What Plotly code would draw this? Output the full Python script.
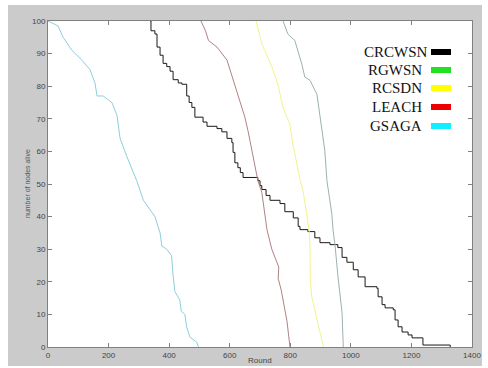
import plotly.graph_objects as go

# ---- data ----
series_names = ["CRCWSN", "RGWSN", "RCSDN", "LEACH", "GSAGA"]

crcwsn_x = [337, 340, 353, 360, 370, 380, 392, 403, 413, 430, 442, 458, 466, 475, 485, 512, 525, 558, 574, 591,
            607, 611, 617, 627, 635, 644, 693, 700, 706, 720, 733, 766, 782, 810, 826, 832, 858, 881, 898, 931,
            957, 971, 987, 1008, 1024, 1047, 1086, 1090, 1103, 1113, 1140, 1146, 1156, 1169, 1189, 1202, 1238, 1328]
crcwsn_y = [100, 97, 96, 92, 89.5, 87, 86, 84.6, 82, 81, 80.6, 77, 75, 73.5, 70.5, 69, 67.7, 67, 66, 64,
            62.7, 59.7, 56.5, 55, 53.5, 52, 51, 49.5, 48.3, 46.5, 45, 44, 41.5, 39.6, 37, 36, 35.4, 33.5, 32, 31.4,
            30.5, 27.5, 26, 23.7, 21.5, 18.5, 18, 15.4, 13, 12, 11.4, 8.3, 6.2, 4.6, 3.7, 2.8, 0.6, 0]

rgwsn_x = [776, 792, 815, 838, 848, 865, 888, 898, 908, 914, 921, 937, 941, 948, 957, 964, 971, 975]
rgwsn_y = [100, 96, 94, 86.8, 82.8, 81.8, 77.5, 71.4, 65, 60.3, 51, 41, 36, 31, 22, 17, 10.4, 0]

rcsdn_x = [687, 706, 739, 759, 776, 799, 809, 822, 832, 842, 855, 862, 865, 865, 866, 871, 881, 898, 910]
rcsdn_y = [100, 93, 86, 80.6, 73.5, 68.3, 62, 56, 51.4, 48, 41, 36, 31, 26, 20.6, 15.4, 11, 4.5, 0]

leach_x = [505, 520, 530, 558, 591, 608, 628, 650, 660, 673, 683, 693, 706, 716, 723, 739, 756, 762, 760, 770, 789, 799]
leach_y = [100, 97, 94, 92, 88, 82.8, 76.6, 70.5, 66.5, 60.3, 55, 51, 47.4, 41, 36, 30, 26, 24.5, 21, 17.5, 8, 0]

gsaga_x = [0, 33, 50, 79, 112, 139, 155, 162, 182, 211, 228, 238, 260, 293, 315, 353, 370, 376, 392, 408,
           413, 419, 435, 440, 452, 458, 469, 491, 497]
gsaga_y = [100, 98.5, 95, 91, 88, 85, 81, 77, 77, 75, 71, 64, 58.5, 51, 45, 40, 35, 31, 30, 28,
           22, 17, 14.5, 11, 10, 6, 3, 1.5, 0]

x_ticks = [0, 200, 400, 600, 800, 1000, 1200, 1400]
y_ticks = [0, 10, 20, 30, 40, 50, 60, 70, 80, 90, 100]

x_title = "Round"
y_title = "number of nodes alive"

line_colors = ["#1a1a1a", "#9db0b2", "#f3f38c", "#b08282", "#8ccfdb"]
legend_colors = ["#000000", "#22e022", "#ffff00", "#ee0000", "#11eeff"]

W, H = 488, 368
L, R, T, B = 48, 16, 21, 21
pw, ph = W - L - R, H - T - B


def px(xp):
    return (xp - L) / pw


def py(yp):
    return (H - B - yp) / ph


fig = go.Figure()
xs = [crcwsn_x, rgwsn_x, rcsdn_x, leach_x, gsaga_x]
ys = [crcwsn_y, rgwsn_y, rcsdn_y, leach_y, gsaga_y]
shapes_line = ["hv", "linear", "linear", "linear", "linear"]
for name, x, y, c, s in zip(series_names, xs, ys, line_colors, shapes_line):
    fig.add_trace(go.Scatter(x=x, y=y, mode="lines", name=name,
                             line=dict(color=c, width=1, shape=s), showlegend=False))

shapes = [
    dict(type="rect", xref="paper", yref="paper", x0=px(8), x1=px(482), y0=py(366), y1=py(5),
         fillcolor="#cbcbcb", line=dict(width=0), layer="below"),
    dict(type="rect", xref="paper", yref="paper", x0=0, x1=1, y0=0, y1=1,
         fillcolor="white", line=dict(width=0), layer="below"),
]
annotations = [
    dict(text=x_title, xref="paper", yref="paper", x=px(260), y=py(360), xanchor="center", yanchor="middle",
         showarrow=False, font=dict(family="Liberation Sans", size=8, color="#444")),
    dict(text=y_title, xref="paper", yref="paper", x=px(27), y=py(184), xanchor="center", yanchor="middle",
         textangle=-90, showarrow=False, font=dict(family="Liberation Sans", size=7, color="#555")),
]
legend_y = [52, 70, 88, 107, 126]
for name, col, ly in zip(series_names, legend_colors, legend_y):
    annotations.append(dict(text=name, xref="paper", yref="paper", x=px(430 if name == "CRCWSN" else 424),
                            y=py(ly), xanchor="right", yanchor="middle", showarrow=False,
                            font=dict(family="Liberation Serif", size=15, color="#111")))
    shapes.append(dict(type="rect", xref="paper", yref="paper", x0=px(431), x1=px(451),
                       y0=py(ly + 3), y1=py(ly - 3), fillcolor=col, line=dict(width=0)))

axis_common = dict(showline=True, linecolor="#808080", linewidth=1, mirror="ticks", automargin=False,
                   ticks="inside", ticklen=4, tickcolor="#808080", showgrid=False, zeroline=False,
                   tickfont=dict(family="Liberation Sans", size=8, color="#444"))

fig.update_layout(
    width=W, height=H,
    margin=dict(l=L, r=R, t=T, b=B, autoexpand=False),
    paper_bgcolor="white", plot_bgcolor="white",
    xaxis=dict(range=[0, 1400], tickvals=x_ticks, ticktext=[str(v) for v in x_ticks], **axis_common),
    yaxis=dict(range=[0, 100], tickvals=y_ticks, ticktext=[str(v) for v in y_ticks], **axis_common),
    shapes=shapes,
    annotations=annotations,
)

fig.write_html("out.html")
